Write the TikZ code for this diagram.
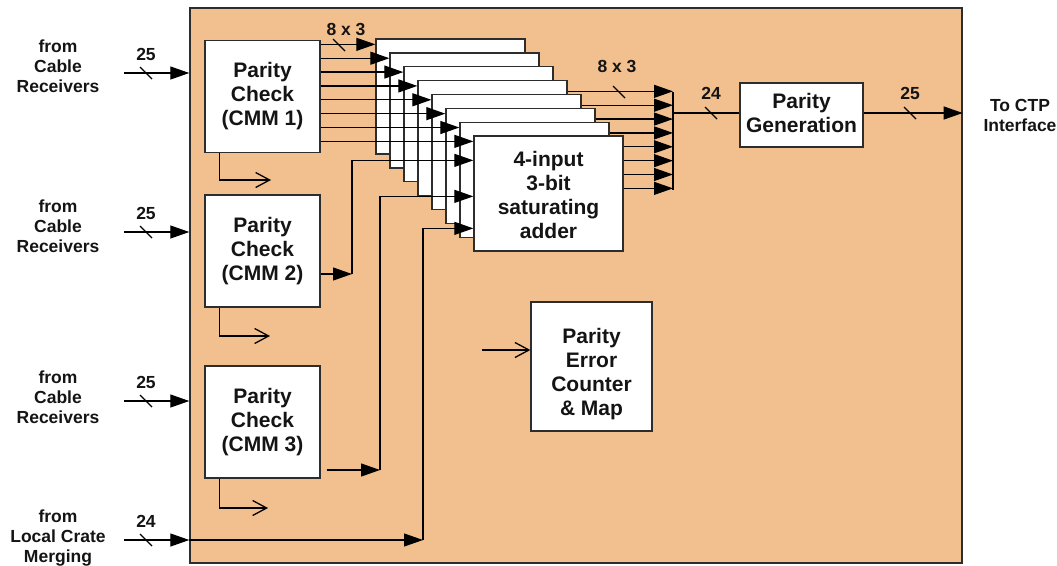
\documentclass[tikz,border=0pt]{standalone}
\usepackage{fontspec}
\setmainfont{Liberation Sans}
\usetikzlibrary{arrows.meta,calc}
\definecolor{board}{RGB}{242,192,142}
\definecolor{edge}{RGB}{45,45,45}
\definecolor{ink}{RGB}{20,20,20}
\newcommand\bmark[1]{\draw[slash] ($(#1)+(-6,-6)$) -- ++(12,12);}
\begin{document}
\begin{tikzpicture}[x=1pt,y=-1pt,
  boardbox/.style={draw=edge,fill=board,line width=1.4pt,inner sep=0pt},
  blkfont/.style={text=ink,font=\bfseries\fontsize{21}{24}\selectfont},
  blk/.style={draw=edge,fill=white,line width=1.3pt,inner sep=0pt,align=center,blkfont},
  btext/.style={align=center,inner sep=0pt,blkfont},
  cmm/.style={blk,minimum width=115pt,minimum height=112pt},
  adder/.style={blk,minimum width=149pt,minimum height=115pt},
  lbl/.style={align=center,inner sep=0pt,text=ink,font=\bfseries\fontsize{17.5}{20}\selectfont},
  num/.style={inner sep=0pt,text=ink,font=\bfseries\fontsize{17.5}{20}\selectfont},
  wire/.style={line width=1.2pt,draw=black},
  arr/.style={wire,-{Triangle[length=19pt,width=13pt]}},
  oarr/.style={wire,-{Straight Barb[length=14pt,width=15pt,line width=1.3pt]}},
  slash/.style={line width=1.2pt}
]
\useasboundingbox (0,0) rectangle (1057,565);
\node[boardbox,minimum width=772pt,minimum height=555pt] (board) at (576,285.5) {};

% external inputs
\node[lbl] (s1) at (58,66) {from\\Cable\\Receivers};
\node[lbl] (s2) at (58,226) {from\\Cable\\Receivers};
\node[lbl] (s3) at (58,397) {from\\Cable\\Receivers};
\node[lbl] (s4) at (58,538) {from\\Local Crate\\Merging};
\foreach \i/\y/\n in {1/73/25,2/232/25,3/401/25,4/540/24}{
  \coordinate (e\i) at (124,\y);
  \draw[arr] (e\i) -- (board.west |- e\i);
  \coordinate (m\i) at (146,\y);
  \bmark{m\i}
  \node[num] (n\i) at (146,\y-19) {\n};
}

% parity check boxes
\node[cmm] (c1) at (262.5,96.5) {Parity\\Check\\(CMM 1)};
\node[cmm] (c2) at (262.5,251) {Parity\\Check\\(CMM 2)};
\node[cmm] (c3) at (262.5,422) {Parity\\Check\\(CMM 3)};

% small side outputs
\coordinate (q1) at (271,180);
\coordinate (q2) at (270,336);
\coordinate (q3) at (268,508);
\foreach \i in {1,2,3}{
  \draw[oarr] ($(c\i.south west)+(15,0)$) |- (q\i);
}

% merge bar
\coordinate (bartop) at (673,92);
\coordinate (barbot) at (673,190);
\draw[wire] (bartop) -- (barbot);

% stacked adders with their outputs
\foreach \k in {1,...,8}{
  \pgfmathsetmacro{\cx}{450.5+14*(\k-1)}
  \pgfmathsetmacro{\cy}{96.5+13.86*(\k-1)}
  \node[adder] (a\k) at (\cx,\cy) {};
  \path ($(a\k.north east)+(0,53)$) coordinate (o\k);
  \draw[arr] (o\k) -- (bartop |- o\k);
}
\node[btext] (adtext) at ($(a8.center)+(0,1.5)$) {4-input\\3-bit\\saturating\\adder};

% inputs from CMM1 to each adder
\foreach \k in {1,...,8}{
  \path ($(a\k.north west)+(0,6)$) coordinate (i\k);
  \draw[arr] (c1.east |- i\k) -- (i\k);
}
\path ($(a8.north west)+(0,25)$) coordinate (i82);
\path ($(a8.north west)+(0,61)$) coordinate (i83);
\path ($(a8.north west)+(0,93)$) coordinate (i84);

% CMM2
\coordinate (j2) at (352,274);
\draw[arr] (c2.east |- j2) -- (j2);
\draw[arr] (j2) -- (j2 |- i82) -- (i82);
% CMM3
\coordinate (j3) at (380,470);
\draw[arr] ($(c3.east |- j3)+(6,0)$) -- (j3);
\draw[arr] (j3) -- (j3 |- i83) -- (i83);
% local crate merging
\coordinate (j4) at (423,540);
\draw[arr] (board.west |- j4) -- (j4);
\draw[arr] (j4) -- (j4 |- i84) -- (i84);

% bus labels
\coordinate (b1) at (339,45);
\bmark{b1}
\node[num] (t1) at (346,29) {8 x 3};
\coordinate (b2) at (619,92);
\bmark{b2}
\node[num] (t2) at (617,66) {8 x 3};

% parity generation
\node[blk,minimum width=123pt,minimum height=64pt] (pg) at (801.5,115) {};
\node[btext] (pgtext) at (801.5,112.5) {Parity\\Generation};
\coordinate (bo) at (673,113);
\draw[wire] (bo) -- (pg.west |- bo);
\coordinate (b3) at (711,113);
\bmark{b3}
\node[num] (t3) at (711,93) {24};
\draw[arr] (pg.east |- bo) -- (board.east |- bo);
\coordinate (b4) at (910,113);
\bmark{b4}
\node[num] (t4) at (910,93) {25};
\node[lbl] (ctp) at (1020,115) {To CTP\\Interface};

% parity error counter
\node[blk,minimum width=121pt,minimum height=129pt] (pem) at (591.5,366.5) {};
\node[btext] (pemtext) at (591.5,374) {Parity\\Error\\Counter\\\& Map};
\coordinate (pe) at (482,350);
\draw[oarr] (pe) -- (pem.west |- pe);
\end{tikzpicture}
\end{document}
